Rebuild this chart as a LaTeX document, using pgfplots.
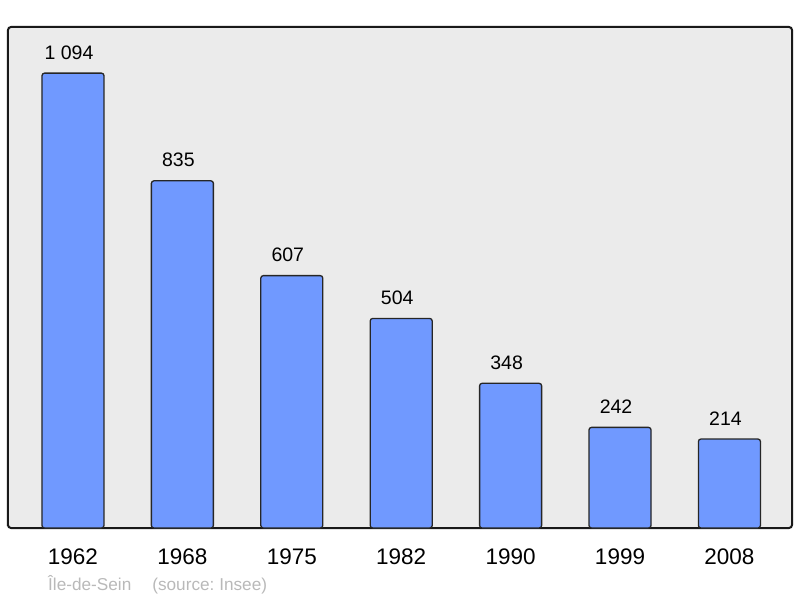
\documentclass[border=0pt]{standalone}
\usepackage{fontspec}
\setmainfont{Liberation Sans}
\usepackage{pgfplots}
\pgfplotsset{compat=1.18}
\definecolor{barblue}{RGB}{112,153,255}
\definecolor{bgray}{RGB}{235,235,235}
\definecolor{foot}{RGB}{185,185,185}
\begin{document}
\frenchspacing
\begin{tikzpicture}
\useasboundingbox (0pt,0pt) rectangle (800pt,598pt);
\begin{axis}[
  at={(8pt,70pt)}, anchor=south west,
  scale only axis, width=784pt, height=501pt,
  xmin=-0.594, xmax=6.572, ymin=0, ymax=1205,
  axis background/.style={fill=bgray},
  axis line style={line width=2pt, rounded corners=3pt, draw=black!90},
  ytick=\empty,
  xtick={0,1,2,3,4,5,6},
  xticklabels={1962,1968,1975,1982,1990,1999,2008},
  major tick length=0pt,
  /pgf/number format/assume math mode=true,
  xticklabel style={anchor=base, yshift=-36pt, font=\fontsize{22.5}{26}\selectfont},
  ybar, bar width=62pt,
  point meta=explicit symbolic,
  nodes near coords,
  nodes near coords style={anchor=base, yshift=14pt, xshift=-4pt, font=\fontsize{19.5}{23}\selectfont, text=black},
  clip=false,
]
\addplot[fill=barblue, draw=black!85, line width=1.3pt, rounded corners=2.5pt] coordinates {
  (0,1094) [1 094]
  (1,835) [835]
  (2,607) [607]
  (3,504) [504]
  (4,348) [348]
  (5,242) [242]
  (6,214) [214]
};
\end{axis}
\node[anchor=base west, text=foot, font=\fontsize{17.2}{20}\selectfont, inner sep=0pt] at (48pt,8pt) {Île-de-Sein\hspace{21pt}(source: Insee)};
\end{tikzpicture}
\end{document}
